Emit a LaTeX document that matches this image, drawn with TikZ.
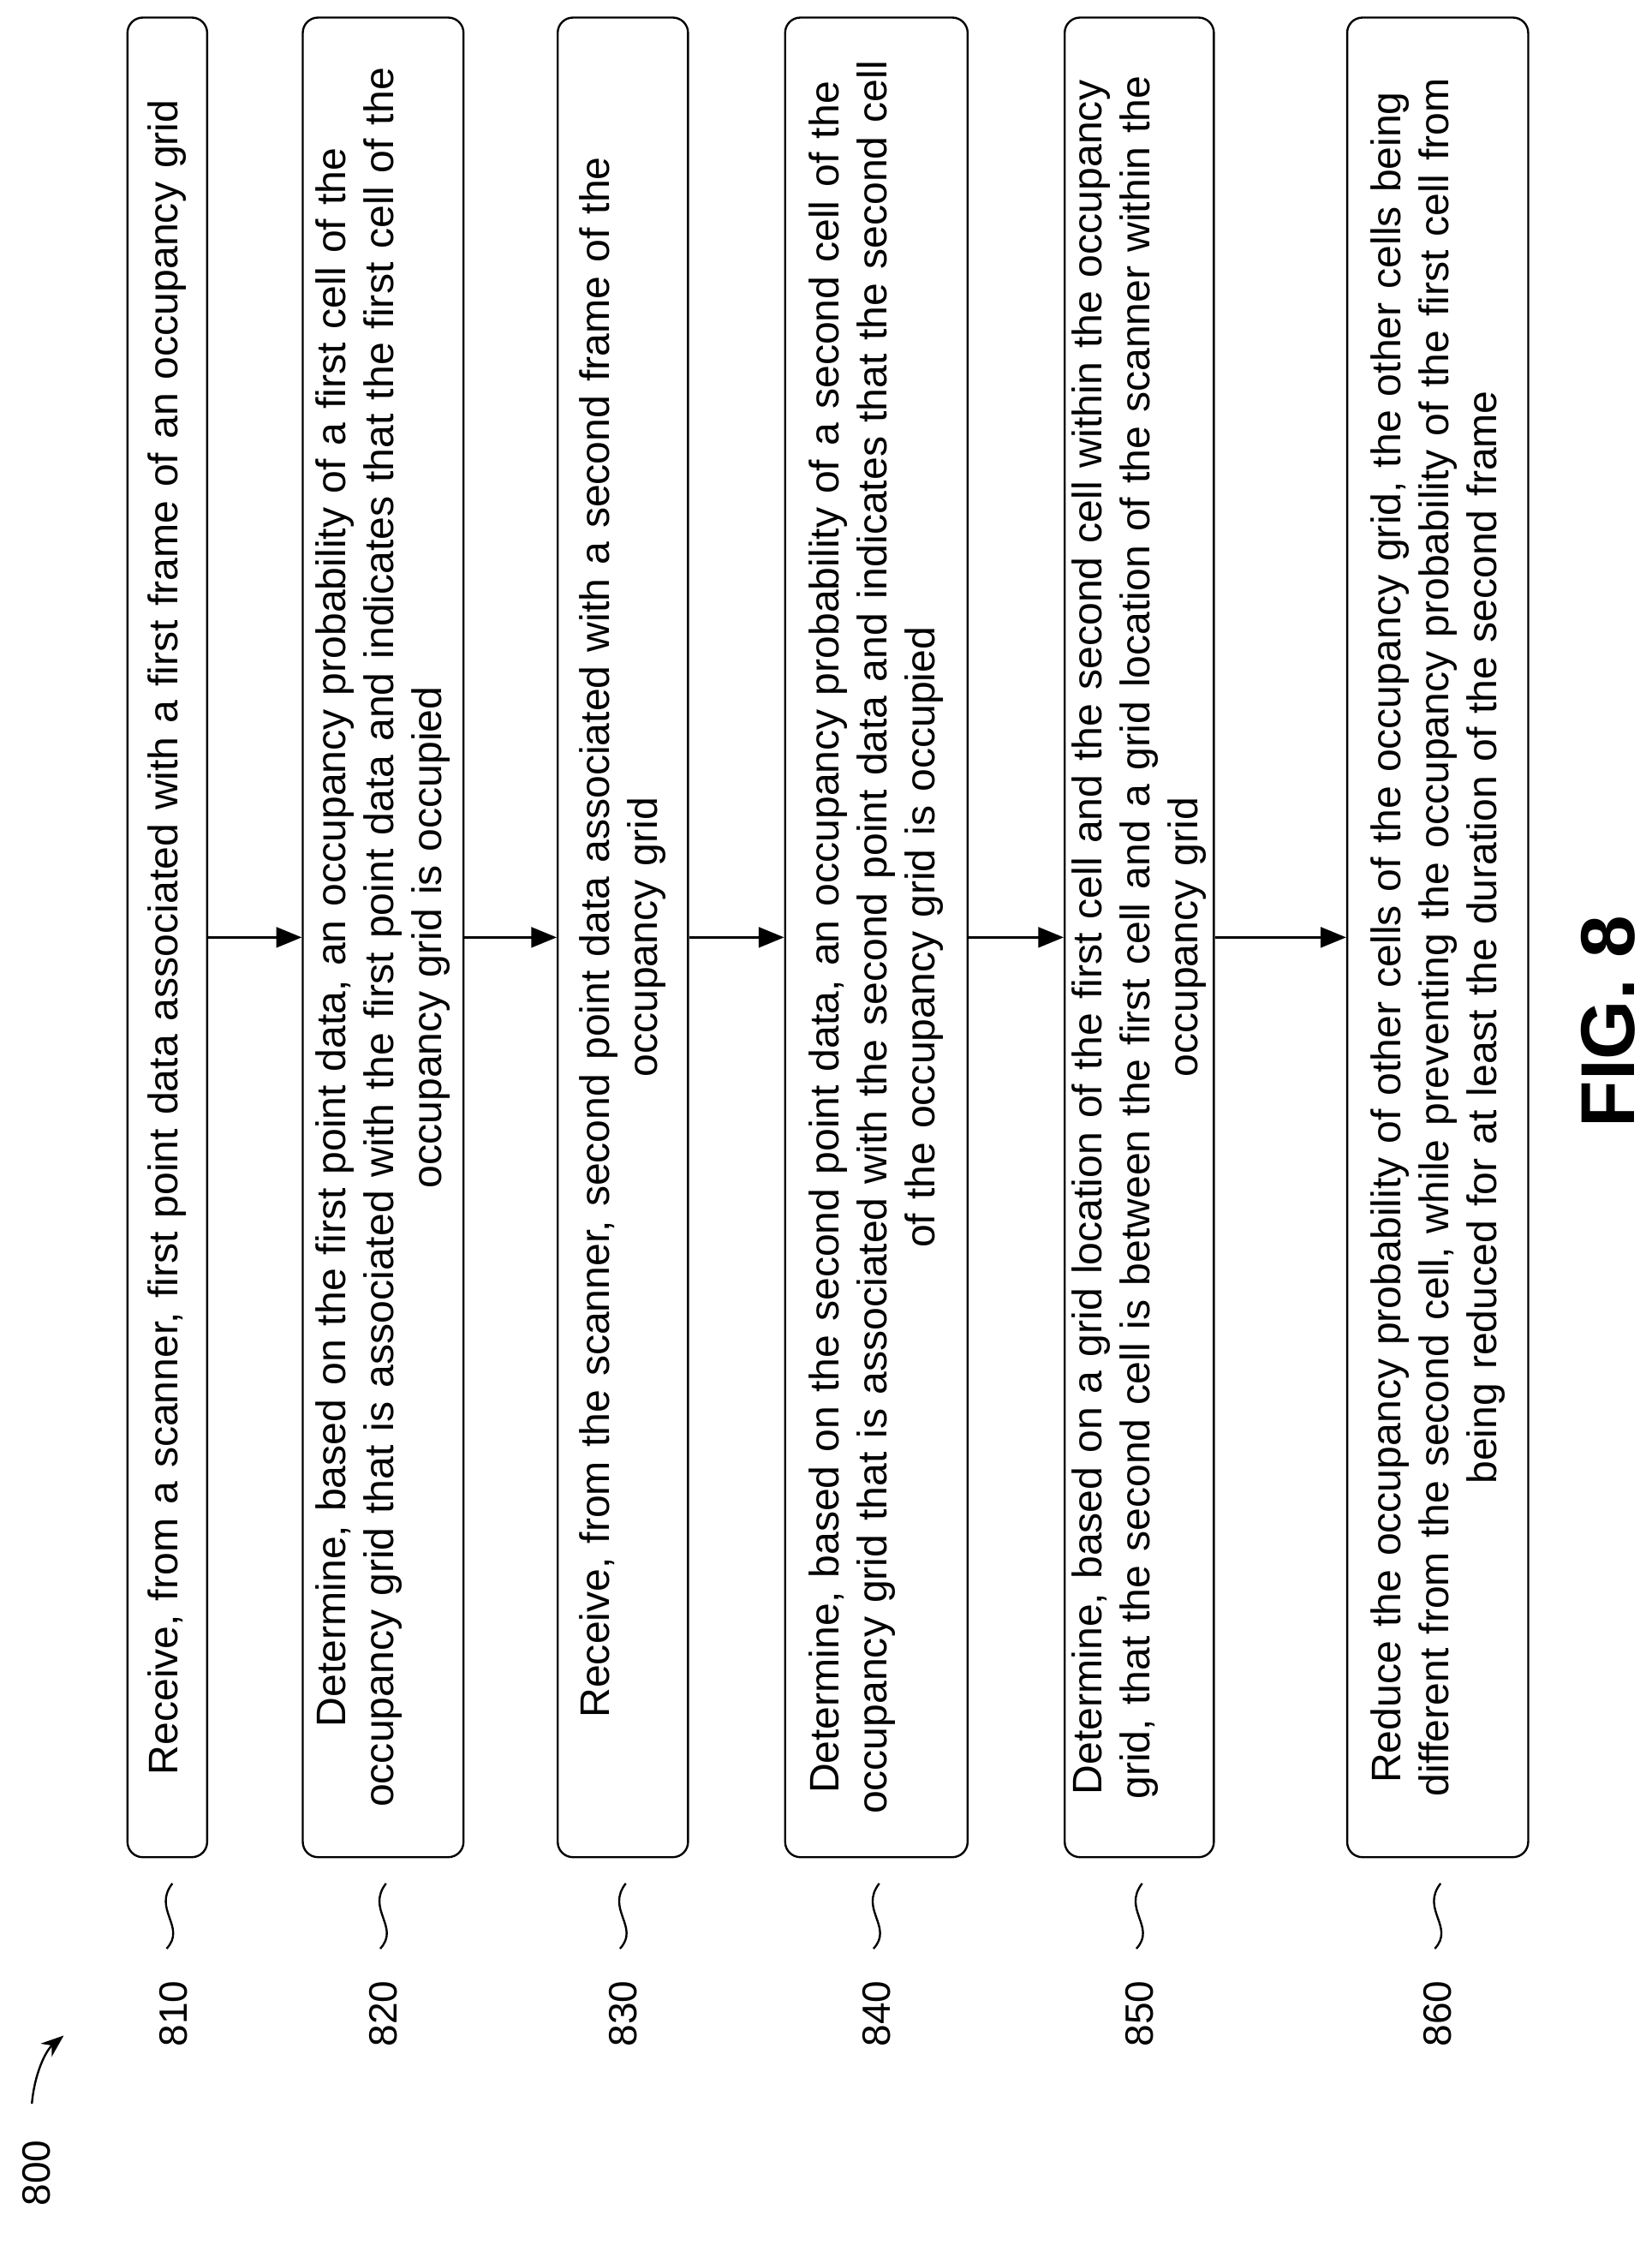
\documentclass[tikz,border=0pt]{standalone}
\usepackage{fontspec}
\setmainfont{Liberation Sans}
\usetikzlibrary{arrows.meta}

\begin{document}
\begin{tikzpicture}[x=0.02cm, y=-0.02cm,
        stepbox/.style={draw, thick, rounded corners=6pt, rotate=90, minimum width=25.4cm,
          text width=25.2cm, align=center, font=\fontsize{16.2}{18.8}\selectfont, inner sep=1pt},
        arrow/.style={-{Triangle[length=10pt, width=8pt]}, thick},
        tag/.style={rotate=90, font=\fontsize{15.5}{18}\selectfont},
        squiggle/.style={thick}
      ]
        \useasboundingbox (0,0) rectangle (1140,1562);

        \node[stepbox, minimum height=1.1cm] (b810) at (115.5,647) {Receive, from a scanner, first point data associated with a first frame of an occupancy grid};
        \node[stepbox, minimum height=2.22cm] (b820) at (264.5,647) {Determine, based on the first point data, an occupancy probability of a first cell of the\\ occupancy grid that is associated with the first point data and indicates that the first cell of the\\ occupancy grid is occupied};
        \node[stepbox, minimum height=1.8cm] (b830) at (430,647) {Receive, from the scanner, second point data associated with a second frame of the\\ occupancy grid};
        \node[stepbox, minimum height=2.52cm] (b840) at (605,647) {Determine, based on the second point data, an occupancy probability of a second cell of the\\ occupancy grid that is associated with the second point data and indicates that the second cell\\ of the occupancy grid is occupied};
        \node[stepbox, minimum height=2.06cm] (b850) at (786.5,647) {Determine, based on a grid location of the first cell and the second cell within the occupancy\\ grid, that the second cell is between the first cell and a grid location of the scanner within the\\ occupancy grid};
        \node[stepbox, minimum height=2.5cm] (b860) at (992.5,647) {Reduce the occupancy probability of other cells of the occupancy grid, the other cells being\\ different from the second cell, while preventing the occupancy probability of the first cell from\\ being reduced for at least the duration of the second frame};

        % Arrows between the steps
        \draw[arrow] (b810.south) -- (b820.north);
        \draw[arrow] (b820.south) -- (b830.north);
        \draw[arrow] (b830.south) -- (b840.north);
        \draw[arrow] (b840.south) -- (b850.north);
        \draw[arrow] (b850.south) -- (b860.north);

        % Reference numerals
        \node[tag] (n810) at (120,1390) {810};
        \node[tag] (n820) at (264.5,1390) {820};
        \node[tag] (n830) at (430,1390) {830};
        \node[tag] (n840) at (605,1390) {840};
        \node[tag] (n850) at (786.5,1390) {850};
        \node[tag] (n860) at (992.5,1390) {860};
        \foreach \x in {117,264.5,430,605,786.5,992.5}
          \draw[squiggle] (\x-2,1345) .. controls (\x+12,1330) and (\x-12,1318) .. (\x+2,1300);

        \node[tag] (n800) at (25,1500) {800};
        \draw[thick, -{Stealth[length=9pt]}] (22,1452) .. controls (24,1430) and (32,1415) .. (44,1405);

        \node[rotate=90, font=\fontsize{30}{36}\selectfont\bfseries] (fig) at (1110,705) {FIG. 8};
\end{tikzpicture}
\end{document}
